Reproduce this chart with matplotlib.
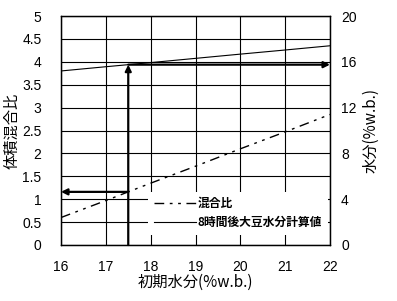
import matplotlib
matplotlib.use("Agg")
import matplotlib.pyplot as plt
import numpy as np

plt.rcParams['font.family'] = ['Liberation Sans', 'Noto Sans CJK JP', 'DejaVu Sans']

# initial moisture (%w.b.)
moisture0 = [16, 17, 18, 19, 20, 21, 22]
# volume mixing ratio (left axis)
mix_ratio = [0.60, 0.97, 1.35, 1.72, 2.10, 2.47, 2.85]
# calculated soybean moisture after 8 h (right axis, %w.b.)
moisture8h = [15.2, 15.57, 15.93, 16.3, 16.67, 17.03, 17.4]

x_pick = 17.5
ratio_pick = 1.16
moist_pick = 15.75

fig = plt.figure(figsize=(3.97, 3.01), dpi=100)
ax = fig.add_axes([61/397, 1-245/301, 269/397, 229/301])
ax2 = ax.twinx()

ax.set_xlim(16, 22)
ax.set_ylim(0, 5)
ax2.set_ylim(0, 20)
ax.set_xticks(np.arange(16, 23, 1))
ax.set_yticks(np.arange(0, 5.01, 0.5))
ax.set_yticklabels(['0', '0.5', '1', '1.5', '2', '2.5', '3', '3.5', '4', '4.5', '5'])
ax2.set_yticks([0, 4, 8, 12, 16, 20])
ax.grid(True, color='black', lw=0.8)
ax.set_axisbelow(True)
for a in (ax, ax2):
    a.tick_params(length=0, labelsize=10)
    for s in a.spines.values():
        s.set_linewidth(0.9)
ax.tick_params(axis='y', pad=14)
ax.tick_params(axis='x', pad=11)
ax2.tick_params(axis='y', pad=8)

l1, = ax.plot(moisture0, mix_ratio, color='black', lw=1.0,
              dashes=[7, 4, 2, 4, 2, 4], label='混合比')
l2, = ax2.plot(moisture0, moisture8h, color='black', lw=0.8,
               label='8時間後大豆水分計算値')

# reading arrows
akw = dict(arrowstyle='-|>', color='black', lw=1.6, mutation_scale=9, shrinkA=0, shrinkB=0)
ax.annotate('', xy=(x_pick, moist_pick/4), xytext=(x_pick, 0), arrowprops=akw)
ax.annotate('', xy=(22, moist_pick/4), xytext=(x_pick, moist_pick/4), arrowprops=akw)
ax.annotate('', xy=(16, ratio_pick), xytext=(x_pick, ratio_pick), arrowprops=akw)

leg = ax2.legend(handles=[l1, l2], loc='lower right', bbox_to_anchor=(1.0, 0.035),
                 frameon=True, fancybox=False, edgecolor='white', framealpha=1,
                 prop={'family': ['Noto Sans CJK JP'], 'weight': 'bold', 'size': 8.5},
                 handlelength=3.6, handletextpad=0.1, borderpad=0.5, borderaxespad=0.2,
                 labelspacing=0.45)
leg.get_frame().set_linewidth(0)

ax.set_xlabel('初期水分(%w.b.)', fontsize=11, family=['Noto Sans CJK JP'], labelpad=0)
ax.set_ylabel('体積混合比', fontsize=11, family=['Noto Sans CJK JP'], labelpad=1)
ax2.set_ylabel('水分(%w.b.)', fontsize=11, family=['Noto Sans CJK JP'], rotation=90, labelpad=4)

fig.savefig('out.png', dpi=100)
